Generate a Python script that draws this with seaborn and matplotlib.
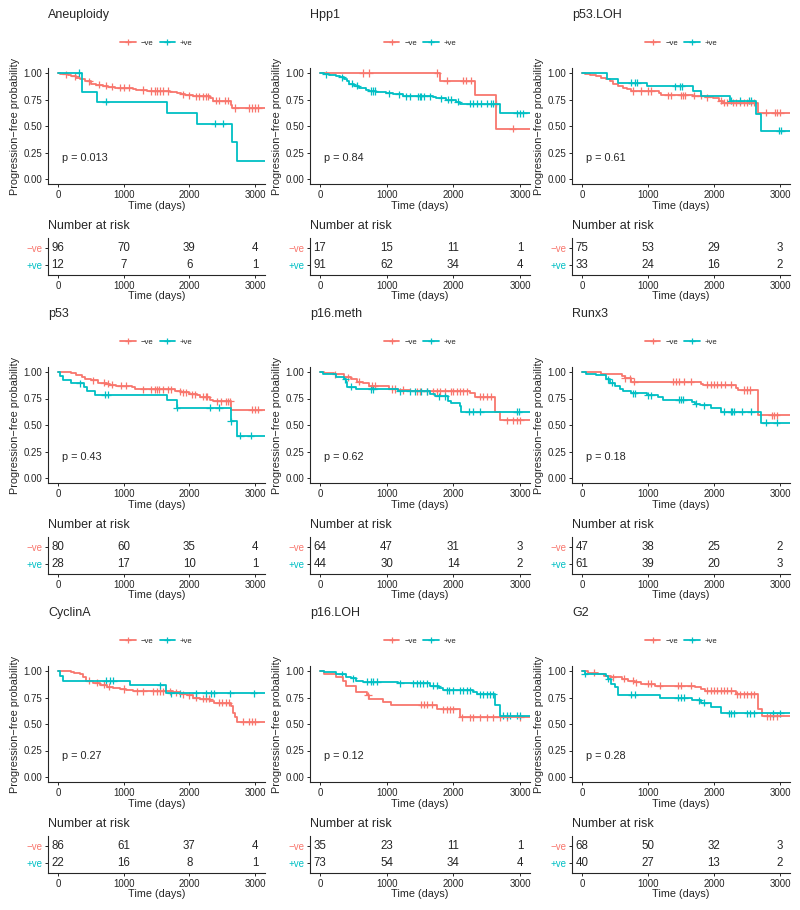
# Basics
import numpy as np
import pandas as pd

# Visualization
import matplotlib
matplotlib.use('Agg')
import matplotlib.pyplot as plt
from matplotlib.lines import Line2D
import seaborn as sns

# ---------------------------------------------------------------
# Data
# ---------------------------------------------------------------
GROUPS = ['−ve', '+ve']
PALETTE = {'−ve': '#F8766D', '+ve': '#00BFC4'}
PANEL_NAMES = ['Aneuploidy', 'Hpp1', 'p53.LOH',
               'p53', 'p16.meth', 'Runx3',
               'CyclinA', 'p16.LOH', 'G2']
P_VALUES = ['0.013', '0.84', '0.61', '0.43', '0.62', '0.18', '0.27', '0.12', '0.28']
RISK_TIMES = [0, 1000, 2000, 3000]
FOLLOW_UP_END = 3150

# Aneuploidy
aneu_neg_t = [40, 150, 200, 280, 330, 410, 510, 580, 690, 770, 870, 1150, 1190, 1350,
              1710, 1810, 1880, 1940, 2060, 2310, 2360, 2630, 2650]
aneu_neg_s = [0.99, 0.98, 0.97, 0.95, 0.94, 0.92, 0.90, 0.89, 0.88, 0.87, 0.86, 0.85, 0.84,
              0.83, 0.82, 0.81, 0.80, 0.79, 0.78, 0.76, 0.74, 0.70, 0.67]
aneu_neg_c = [120, 260, 480, 620, 730, 820, 950, 1000, 1080, 1300, 1420, 1480, 1500, 1560,
              1600, 1680, 1900, 1990, 2100, 2150, 2200, 2250, 2280, 2400, 2450, 2540, 2580,
              2700, 2900, 2950, 3000, 3050]
aneu_pos_t = [360, 590, 1660, 2120, 2650, 2720]
aneu_pos_s = [0.82, 0.73, 0.62, 0.52, 0.345, 0.17]
aneu_pos_c = [320, 730, 2390, 2510]
aneu_risk_neg = [96, 70, 39, 4]
aneu_risk_pos = [12, 7, 6, 1]

# Hpp1
hpp1_neg_t = [1800, 2320, 2640]
hpp1_neg_s = [0.925, 0.79, 0.475]
hpp1_neg_c = [640, 740, 1760, 1900, 2150, 2190, 2260, 2890]
hpp1_pos_t = [60, 140, 240, 300, 360, 410, 440, 510, 590, 690, 740, 840, 990, 1090, 1240,
              1690, 1740, 1890, 2040, 2100, 2700]
hpp1_pos_s = [0.99, 0.98, 0.97, 0.96, 0.94, 0.92, 0.90, 0.88, 0.86, 0.84, 0.83, 0.82, 0.81,
              0.80, 0.78, 0.77, 0.76, 0.75, 0.73, 0.71, 0.62]
hpp1_pos_c = [90, 330, 480, 560, 760, 790, 820, 1030, 1180, 1290, 1350, 1470, 1500, 1510,
              1560, 1650, 1820, 1920, 1960, 2070, 2250, 2290, 2360, 2420, 2500, 2560, 2600,
              2640, 2950, 3000, 3050]
hpp1_risk_neg = [17, 15, 11, 1]
hpp1_risk_pos = [91, 62, 34, 4]

# p53.LOH
p53loh_neg_t = [40, 120, 210, 290, 360, 420, 470, 550, 620, 680, 750, 1160, 1190, 1680,
                1870, 1990, 2070, 2140, 2660]
p53loh_neg_s = [0.99, 0.98, 0.97, 0.95, 0.94, 0.92, 0.90, 0.88, 0.86, 0.85, 0.83, 0.81,
                0.79, 0.785, 0.77, 0.76, 0.74, 0.72, 0.625]
p53loh_neg_c = [780, 900, 1000, 1050, 1300, 1350, 1500, 1530, 1560, 1700, 1800, 1900, 2100,
                2150, 2200, 2280, 2330, 2390, 2450, 2500, 2560, 2600, 2780, 2920, 2950, 3000]
p53loh_pos_t = [380, 540, 980, 1680, 1810, 2240, 2630, 2710]
p53loh_pos_s = [0.94, 0.91, 0.875, 0.83, 0.785, 0.74, 0.61, 0.455]
p53loh_pos_c = [750, 800, 840, 1410, 1480, 1510, 2250, 2400, 2530, 2560, 2990, 3020]
p53loh_risk_neg = [75, 53, 29, 3]
p53loh_risk_pos = [33, 24, 16, 2]

# p53
p53_neg_t = [200, 280, 360, 410, 510, 610, 740, 790, 890, 1120, 1170, 1250, 1780, 1880,
             1990, 2110, 2160, 2310, 2360, 2640]
p53_neg_s = [0.99, 0.97, 0.95, 0.93, 0.92, 0.90, 0.89, 0.88, 0.87, 0.86, 0.84, 0.835, 0.82,
             0.81, 0.79, 0.78, 0.765, 0.74, 0.725, 0.645]
p53_neg_c = [540, 700, 760, 820, 960, 1030, 1300, 1420, 1480, 1500, 1540, 1600, 1680, 1720,
             1850, 1900, 1950, 2040, 2080, 2200, 2250, 2270, 2420, 2480, 2550, 2580, 2620,
             2950, 3000, 3050]
p53_pos_t = [25, 75, 200, 390, 450, 560, 1660, 1810, 2630, 2720]
p53_pos_s = [0.964, 0.929, 0.893, 0.857, 0.821, 0.786, 0.734, 0.665, 0.535, 0.40]
p53_pos_c = [330, 710, 760, 1810, 2310, 2450, 2630, 2770, 2930]
p53_risk_neg = [80, 60, 35, 4]
p53_risk_pos = [28, 17, 10, 1]

# p16.meth
p16m_neg_t = [60, 210, 360, 460, 560, 640, 740, 1040, 1170, 1350, 2250, 2320, 2620, 2700]
p16m_neg_s = [0.99, 0.98, 0.95, 0.93, 0.91, 0.90, 0.87, 0.84, 0.83, 0.82, 0.80, 0.765,
              0.62, 0.545]
p16m_neg_c = [230, 420, 580, 780, 820, 1080, 1120, 1250, 1460, 1500, 1600, 1700, 1760, 1800,
              1880, 1960, 2000, 2050, 2100, 2150, 2200, 2400, 2450, 2500, 2560, 2800, 2900,
              2950, 3000]
p16m_pos_t = [45, 240, 360, 390, 410, 540, 1170, 1650, 1720, 1920, 1970, 2100, 2110]
p16m_pos_s = [0.977, 0.955, 0.93, 0.91, 0.86, 0.84, 0.82, 0.795, 0.77, 0.73, 0.71, 0.68,
              0.625]
p16m_pos_c = [380, 470, 770, 800, 1200, 1350, 1420, 1520, 1600, 1780, 1880, 2230, 2300,
              2400, 2950, 2980]
p16m_risk_neg = [64, 47, 31, 3]
p16m_risk_pos = [44, 30, 14, 2]

# Runx3
runx3_neg_t = [290, 600, 650, 750, 1810, 1840, 2340, 2360, 2670]
runx3_neg_s = [0.98, 0.96, 0.94, 0.91, 0.89, 0.88, 0.85, 0.83, 0.59]
runx3_neg_c = [650, 730, 790, 1380, 1430, 1470, 1550, 1650, 1900, 1950, 2000, 2050, 2100,
               2170, 2250, 2450, 2500, 2540, 2870, 2910, 2950]
runx3_pos_t = [66, 210, 370, 420, 500, 570, 620, 750, 980, 1150, 1230, 1660, 1710, 1790,
               1960, 2110, 2710]
runx3_pos_s = [0.98, 0.97, 0.93, 0.90, 0.87, 0.84, 0.82, 0.80, 0.78, 0.76, 0.74, 0.72,
               0.70, 0.685, 0.66, 0.625, 0.52]
runx3_pos_c = [400, 450, 780, 800, 1000, 1050, 1470, 1500, 1530, 1720, 1850, 2150, 2250,
               2270, 2300, 2420, 2560, 2780, 2950]
runx3_risk_neg = [47, 38, 25, 2]
runx3_risk_pos = [61, 39, 20, 3]

# CyclinA
cyca_neg_t = [200, 250, 330, 380, 430, 530, 640, 740, 840, 940, 1040, 1150, 1750, 1860,
              1960, 2060, 2160, 2310, 2380, 2630, 2660, 2690, 2720]
cyca_neg_s = [0.99, 0.98, 0.97, 0.94, 0.91, 0.89, 0.87, 0.85, 0.84, 0.83, 0.82, 0.81, 0.80,
              0.78, 0.77, 0.75, 0.74, 0.72, 0.70, 0.67, 0.60, 0.565, 0.52]
cyca_neg_c = [480, 600, 700, 780, 1000, 1200, 1300, 1450, 1500, 1550, 1600, 1700, 1800,
              1900, 2000, 2100, 2200, 2250, 2300, 2450, 2500, 2550, 2600, 2820, 2900, 2950,
              3000]
cyca_pos_t = [25, 76, 1090, 1650]
cyca_pos_s = [0.955, 0.91, 0.865, 0.79]
cyca_pos_c = [730, 790, 840, 1560, 1720, 1850, 2100, 2250, 2330, 2370, 2620, 2980]
cyca_risk_neg = [86, 61, 37, 4]
cyca_risk_pos = [22, 16, 8, 1]

# p16.LOH
p16l_neg_t = [60, 240, 340, 390, 540, 700, 740, 940, 1070, 1750, 2100]
p16l_neg_s = [0.97, 0.94, 0.91, 0.857, 0.80, 0.77, 0.74, 0.71, 0.68, 0.64, 0.565]
p16l_neg_c = [720, 1520, 1560, 1600, 1680, 1850, 1900, 1950, 2000, 2130, 2250, 2300, 2400,
              2500, 2600, 2700, 2800, 3000]
p16l_pos_t = [60, 240, 390, 460, 540, 640, 1170, 1650, 1790, 1850, 2300, 2350, 2630, 2700]
p16l_pos_s = [0.986, 0.97, 0.945, 0.93, 0.91, 0.90, 0.885, 0.86, 0.84, 0.82, 0.80, 0.78,
              0.68, 0.58]
p16l_pos_c = [330, 500, 700, 760, 800, 860, 1200, 1400, 1450, 1500, 1550, 1600, 1700, 1760,
              1900, 1940, 2000, 2100, 2150, 2200, 2250, 2400, 2450, 2500, 2550, 2600, 2750,
              2800, 2850, 2950, 3000]
p16l_risk_neg = [35, 23, 11, 1]
p16l_risk_pos = [73, 54, 34, 4]

# G2
g2_neg_t = [90, 240, 340, 440, 600, 700, 800, 900, 1100, 1710, 1810, 1860, 2340, 2660, 2720]
g2_neg_s = [0.985, 0.97, 0.955, 0.94, 0.925, 0.91, 0.895, 0.88, 0.86, 0.85, 0.83, 0.815,
            0.78, 0.64, 0.575]
g2_neg_c = [180, 470, 640, 770, 820, 1000, 1050, 1180, 1450, 1500, 1650, 1900, 1950, 2000,
            2050, 2100, 2150, 2200, 2250, 2350, 2400, 2450, 2500, 2560, 2600, 2800, 2850,
            2900, 2960]
g2_pos_t = [40, 370, 400, 440, 500, 550, 1180, 1660, 1810, 1960, 2110]
g2_pos_s = [0.975, 0.95, 0.925, 0.875, 0.85, 0.775, 0.75, 0.725, 0.70, 0.665, 0.60]
g2_pos_c = [40, 400, 750, 800, 1450, 1500, 1550, 1780, 1850, 2230, 2250, 2300, 2500, 2550,
            2600, 2900, 3000]
g2_risk_neg = [68, 50, 32, 3]
g2_risk_pos = [40, 27, 13, 2]

CURVES = [
    ((aneu_neg_t, aneu_neg_s, aneu_neg_c), (aneu_pos_t, aneu_pos_s, aneu_pos_c)),
    ((hpp1_neg_t, hpp1_neg_s, hpp1_neg_c), (hpp1_pos_t, hpp1_pos_s, hpp1_pos_c)),
    ((p53loh_neg_t, p53loh_neg_s, p53loh_neg_c), (p53loh_pos_t, p53loh_pos_s, p53loh_pos_c)),
    ((p53_neg_t, p53_neg_s, p53_neg_c), (p53_pos_t, p53_pos_s, p53_pos_c)),
    ((p16m_neg_t, p16m_neg_s, p16m_neg_c), (p16m_pos_t, p16m_pos_s, p16m_pos_c)),
    ((runx3_neg_t, runx3_neg_s, runx3_neg_c), (runx3_pos_t, runx3_pos_s, runx3_pos_c)),
    ((cyca_neg_t, cyca_neg_s, cyca_neg_c), (cyca_pos_t, cyca_pos_s, cyca_pos_c)),
    ((p16l_neg_t, p16l_neg_s, p16l_neg_c), (p16l_pos_t, p16l_pos_s, p16l_pos_c)),
    ((g2_neg_t, g2_neg_s, g2_neg_c), (g2_pos_t, g2_pos_s, g2_pos_c)),
]
RISKS = [
    (aneu_risk_neg, aneu_risk_pos), (hpp1_risk_neg, hpp1_risk_pos),
    (p53loh_risk_neg, p53loh_risk_pos), (p53_risk_neg, p53_risk_pos),
    (p16m_risk_neg, p16m_risk_pos), (runx3_risk_neg, runx3_risk_pos),
    (cyca_risk_neg, cyca_risk_pos), (p16l_risk_neg, p16l_risk_pos),
    (g2_risk_neg, g2_risk_pos),
]

# ---------------------------------------------------------------
# Helpers
# ---------------------------------------------------------------
def step_frame(curves):
    '''Build the step-function and censor tables for one panel.'''
    steps, cens = [], []
    for group, (times, surv, censored) in zip(GROUPS, curves):
        t = np.array([0] + list(times) + [FOLLOW_UP_END], dtype=float)
        s = np.array([1.0] + list(surv) + [surv[-1]])
        steps.append(pd.DataFrame({'time': t, 'surv': s, 'group': group}))
        # survival level at each censoring time
        idx = np.searchsorted(t, censored, side='right') - 1
        cens.append(pd.DataFrame({'time': censored, 'surv': s[idx], 'group': group}))
    return pd.concat(steps, ignore_index=True), pd.concat(cens, ignore_index=True)


def px_rect(left, top, right, bottom, W=800, H=910):
    return [left / W, 1 - bottom / H, (right - left) / W, (bottom - top) / H]


# ---------------------------------------------------------------
# Figure
# ---------------------------------------------------------------
sns.set_style('ticks')
plt.rcParams['font.family'] = ['Liberation Sans', 'DejaVu Sans']
plt.rcParams['axes.linewidth'] = 0.8
plt.rcParams['xtick.major.width'] = 0.7
plt.rcParams['ytick.major.width'] = 0.7
plt.rcParams['xtick.major.size'] = 2.5
plt.rcParams['ytick.major.size'] = 2.5
plt.rcParams['xtick.major.pad'] = 1.5
plt.rcParams['ytick.major.pad'] = 1.5

fig = plt.figure(figsize=(8, 9.1), dpi=100)

col_left = [48, 310, 572]
col_right = [265, 530, 790]
row_step = 299

for i, name in enumerate(PANEL_NAMES):
    r, c = divmod(i, 3)
    off = r * row_step
    L, R = col_left[c], col_right[c]

    # Survival panel
    ax = fig.add_axes(px_rect(L, 67.7 + off, R, 184.3 + off))
    steps, cens = step_frame(CURVES[i])
    sns.lineplot(data=steps, x='time', y='surv', hue='group', palette=PALETTE,
                 estimator=None, sort=False, drawstyle='steps-post', linewidth=1.3,
                 legend=False, ax=ax)
    sns.scatterplot(data=cens, x='time', y='surv', hue='group', palette=PALETTE,
                    marker='+', s=26, linewidth=0.9, legend=False, ax=ax)
    ax.set_xlim(-150, 3150)
    ax.set_ylim(-0.05, 1.05)
    ax.set_xticks(RISK_TIMES)
    ax.set_yticks([0, 0.25, 0.5, 0.75, 1.0])
    ax.set_yticklabels(['0.00', '0.25', '0.50', '0.75', '1.00'])
    ax.tick_params(labelsize=7)
    ax.set_xlabel('Time (days)', fontsize=7.8, labelpad=1)
    ax.set_ylabel('Progression\u2212free probability', fontsize=7.8, labelpad=2.5)
    sns.despine(ax=ax)
    ax.text(60, 0.2, 'p = ' + P_VALUES[i], fontsize=7.8, ha='left', va='center')

    handles = [Line2D([0], [0], color=PALETTE[g], lw=1.3, marker='+', markersize=4.5,
                      markeredgewidth=0.9) for g in GROUPS]
    ax.legend(handles, GROUPS, loc='center', bbox_to_anchor=(0.5, 1.21), ncol=2,
              frameon=False, fontsize=5.6, handlelength=2.0, handletextpad=0.6,
              columnspacing=0.8, borderpad=0)

    fig.text(L / 800, 1 - (15 + off) / 910, name, fontsize=9, ha='left', va='center')

    # Risk table
    rax = fig.add_axes(px_rect(L, 237.8 + off, R, 275 + off))
    risk_df = pd.DataFrame({
        'time': RISK_TIMES * 2,
        'n': list(RISKS[i][0]) + list(RISKS[i][1]),
        'row': [1] * 4 + [2] * 4,
    })
    for _, rw in risk_df.iterrows():
        rax.text(rw['time'], rw['row'], str(rw['n']), fontsize=8.3,
                 ha='center', va='center')
    rax.set_xlim(-150, 3150)
    rax.set_ylim(2.6, 0.4)
    rax.set_xticks(RISK_TIMES)
    rax.set_yticks([1, 2])
    rax.set_yticklabels(GROUPS)
    for lab, g in zip(rax.get_yticklabels(), GROUPS):
        lab.set_color(PALETTE[g])
    rax.tick_params(labelsize=7)
    rax.set_xlabel('Time (days)', fontsize=7.8, labelpad=0.5)
    rax.set_ylabel('')
    sns.despine(ax=rax)

    fig.text(L / 800, 1 - (226 + off) / 910, 'Number at risk', fontsize=9,
             ha='left', va='center')

fig.savefig('out.png', dpi=100)
